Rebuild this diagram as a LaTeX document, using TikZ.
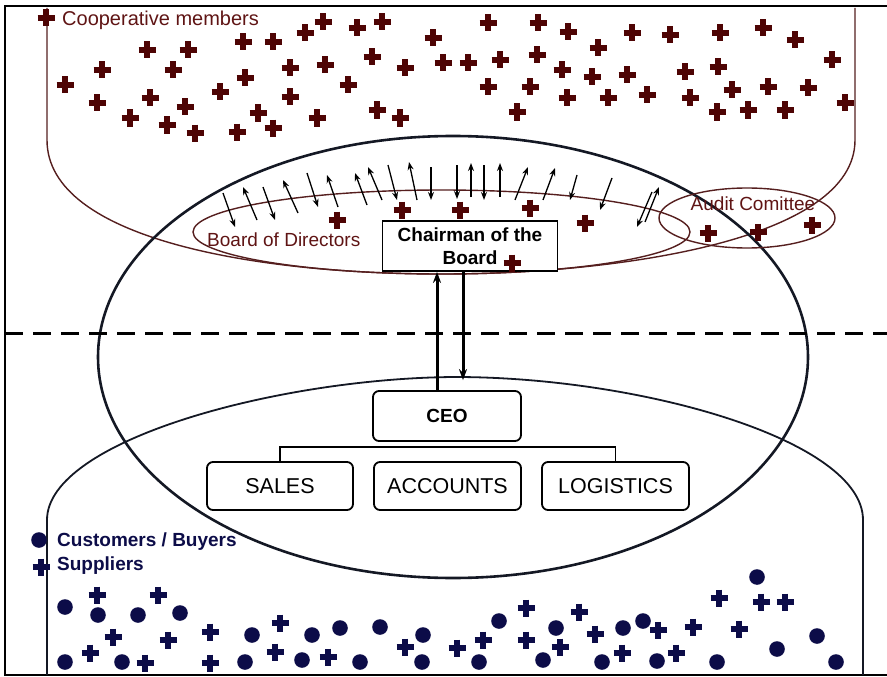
\documentclass[tikz,border=0pt]{standalone}
\usepackage{fontspec}
\setmainfont{Liberation Sans}
\usetikzlibrary{arrows.meta}
\definecolor{memberred}{RGB}{78,4,4}
\definecolor{linebrown}{RGB}{85,30,30}
\definecolor{textbrown}{RGB}{95,20,20}
\definecolor{buyerblue}{RGB}{12,12,72}
\definecolor{ringblack}{RGB}{20,24,36}
\begin{document}
\begin{tikzpicture}[x=1pt, y=-1pt, >={Stealth[length=8pt,width=6pt]},
    member/.pic={\draw[memberred, line width=6.8pt] (-8.5,0) -- (8.5,0) (0,-8.5) -- (0,8.5);},
    supplier/.pic={\draw[buyerblue, line width=6.8pt] (-8.5,0) -- (8.5,0) (0,-8.5) -- (0,8.5);},
    buyer/.style={fill=buyerblue},
    vote/.style={->, line width=1.3pt},
    report/.style={-{Stealth[length=11pt,width=8pt]}, line width=3pt},
    ring/.style={linebrown, line width=1.4pt},
    toplabel/.style={text=textbrown, inner sep=0pt, anchor=west, font=\fontsize{20}{22}\selectfont},
    botlabel/.style={text=buyerblue, inner sep=0pt, anchor=west, font=\bfseries\fontsize{19}{22}\selectfont},
    orgbox/.style={draw, line width=1.8pt, fill=white, inner sep=0pt},
    dept/.style={orgbox, rounded corners=6pt, minimum width=146pt, minimum height=48pt, font=\fontsize{21.5}{24}\selectfont}]
    \useasboundingbox (0,0) rectangle (887,677);
    \draw[line width=2.5pt] (887,6) -- (5,6) -- (5,675) -- (887,675);

    \draw[ring] (47,8) -- (47,140) .. controls (47,240) and (260,275) .. (450,274) .. controls (620,273) and (855,240) .. (855,140) -- (855,8);
    \draw[ringblack, line width=1.8pt] (47,675) -- (47,520) .. controls (47,440) and (280,378) .. (455,377) .. controls (640,377) and (863,440) .. (863,520) -- (863,675);
    \draw[ringblack, line width=2.6pt] (453,357) ellipse [x radius=355, y radius=221];
    \draw[line width=3pt, dash pattern=on 18pt off 10pt] (5,333) -- (887,333);
    \draw[ring] (441.5,232) ellipse [x radius=248.5, y radius=42];
    \draw[ring] (747,218) ellipse [x radius=88, y radius=30];

    \foreach \px/\py in {46/18, 147/50, 188/50, 243/42, 273/42, 305/33, 323/22, 357/28, 382/22, 433/38,
        65/85, 102/70, 173/70, 245/78, 290/68, 325/65, 372/57, 405/68, 443/63,
        220/92, 348/85, 290/97, 97/103, 150/98, 185/107, 130/118, 167/125, 195/133, 237/132,
        258/113, 273/128, 317/118, 377/110, 400/118,
        488/23, 538/23, 568/32, 598/48, 632/33, 670/35, 720/33, 763/28, 795/40, 832/60,
        468/63, 500/60, 537/55, 562/70, 592/77, 627/75, 685/72, 718/67,
        488/87, 530/87, 567/98, 608/98, 647/95, 690/98, 732/90, 768/87, 808/88, 845/103,
        517/112, 717/112, 748/110, 785/110,
        337/220, 402/210, 460/210, 530/208, 585/223,
        708/233, 758/232, 812/225}
        \pic at (\px,\py) {member};

    \foreach \ax/\ay/\bx/\by in {223/193/235/227, 257/220/243/187, 263/187/275/220, 298/213/283/180,
        307/173/318/207, 338/207/327/175, 367/205/355/173, 382/200/368/167, 388/165/397/200,
        417/200/409/162, 431/167/431/200, 457/165/457/199, 471/197/471/163, 484/165/484/200,
        500/197/500/163, 515/200/528/167, 543/200/555/168, 577/175/570/200, 612/178/600/210,
        652/192/637/227, 645/222/659/187}
        \draw[vote] (\ax,\ay) -- (\bx,\by);

    \node[toplabel] (coop) at (62,20) {Cooperative members};
    \node[toplabel, font=\fontsize{19}{22}\selectfont] (board) at (207,240) {Board of Directors};
    \node[toplabel, anchor=center, font=\fontsize{19}{22}\selectfont] (audit) at (753,204) {Audit Comittee};

    \node[orgbox, minimum width=175pt, minimum height=50pt, align=center,
        font=\bfseries\fontsize{19}{23}\selectfont] (chair) at (470,246) {Chairman of the\\Board};
    \pic at (512,263) {member};

    \node[dept, minimum width=148pt, minimum height=50pt, font=\bfseries\fontsize{19}{22}\selectfont] (ceo) at (447,416) {CEO};
    \node[dept] (sales) at (280,486) {SALES};
    \node[dept, minimum width=147pt] (accounts) at (447.5,486) {ACCOUNTS};
    \node[dept, minimum width=147pt] (logistics) at (615.5,486) {LOGISTICS};
    \draw[line width=1.8pt] (sales.north) -- ++(0,-14) -| (logistics.north);

    \coordinate (upline) at (437,0);
    \coordinate (downline) at (463,0);
    \coordinate (ceotip) at ([yshift=10pt]ceo.north);
    \draw[report] (ceo.north -| upline) -- (chair.south -| upline);
    \draw[report] (chair.south -| downline) -- (ceotip -| downline);

    \foreach \px/\py in {65/607, 98/615, 138/615, 180/613, 252/635, 312/635, 340/628, 380/627, 423/635,
        65/662, 122/662, 245/662, 302/660, 360/662, 422/662, 479/662, 499/621, 543/660, 556/628,
        602/662, 623/628, 643/621, 657/661, 717/662, 757/577, 777/649, 817/636, 836/662, 39/540}
        \fill[buyer] (\px,\py) circle (7.8);
    \foreach \px/\py in {97/595, 158/595, 113/637, 168/640, 210/632, 280/623, 405/647, 90/653,
        145/663, 210/663, 275/652, 328/657, 457/648, 483/640, 526/608, 526/640, 560/647, 579/612,
        595/634, 622/653, 658/630, 676/653, 693/627, 719/598, 739/629, 761/602, 785/602, 41/567}
        \pic at (\px,\py) {supplier};

    \node[botlabel] (buyers) at (57,542) {Customers / Buyers};
    \node[botlabel] (suppliers) at (57,566) {Suppliers};
\end{tikzpicture}
\end{document}
